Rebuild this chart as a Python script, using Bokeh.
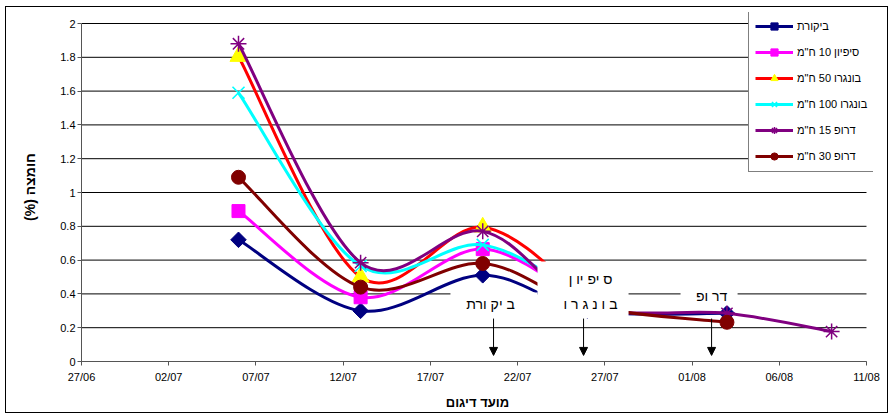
from datetime import datetime, timedelta
import numpy as np
from bokeh.plotting import figure
from bokeh.models import (Range1d, FixedTicker, DatetimeTickFormatter, CustomJSTickFormatter,
                          Legend, LegendItem, ColumnDataSource, BoxAnnotation, Label, Arrow, NormalHead,
                          InlineStyleSheet)
from bokeh.embed import file_html
from bokeh.resources import INLINE

YEAR = 2004

# ---------------- data ----------------
tick_labels = ["27/06", "02/07", "07/07", "12/07", "17/07", "22/07", "27/07", "01/08", "06/08", "11/08"]
y_ticks = [0, 0.2, 0.4, 0.6, 0.8, 1.0, 1.2, 1.4, 1.6, 1.8, 2.0]

names = ["ביקורת", 'סיפיון 10 ח"מ', 'בונגרו 50 ח"מ', 'בונגרו 100 ח"מ', 'דרופ 15 ח"מ', 'דרופ 30 ח"מ']

dates_control = ["06/07", "13/07", "20/07", "26/07", "03/08"]
control = [0.72, 0.30, 0.51, 0.30, 0.285]

dates_sifion10 = ["06/07", "13/07", "20/07", "26/07"]
sifion10 = [0.89, 0.38, 0.665, 0.33]

dates_bongaro50 = ["06/07", "13/07", "20/07", "26/07"]
bongaro50 = [1.805, 0.50, 0.795, 0.36]

dates_bongaro100 = ["06/07", "13/07", "20/07", "26/07"]
bongaro100 = [1.59, 0.565, 0.69, 0.37]

dates_drop15 = ["06/07", "13/07", "20/07", "26/07", "03/08", "09/08"]
drop15 = [1.88, 0.585, 0.77, 0.33, 0.285, 0.177]

dates_drop30 = ["06/07", "13/07", "20/07", "26/07", "03/08"]
drop30 = [1.09, 0.44, 0.58, 0.33, 0.232]

# treatment annotations (labels)
treat_labels = [["ב יק ורת"], ["ס יפ יו ן", "ב ו נ ג ר ו"], ["דר ופ"]]

# ---------------- helpers ----------------
EPOCH = datetime(1970, 1, 1)


def parse(d):
    day, mon = map(int, d.split("/"))
    return datetime(YEAR, mon, day)


def to_ms(dt):
    return (dt - EPOCH).total_seconds() * 1000.0


BASE = parse(tick_labels[0])
DAY_MS = 86400000.0


def day_ms(offset_days):
    return to_ms(BASE + timedelta(days=offset_days))


def bezier_source(dates, vals):
    X = np.array([to_ms(parse(d)) for d in dates])
    Y = np.array(vals, float)
    n = len(X)
    x0, y0, x1, y1, cx0, cy0, cx1, cy1 = [], [], [], [], [], [], [], []
    for i in range(n - 1):
        im = i - 1 if i > 0 else i
        ip = i + 2 if i + 2 < n else i + 1
        x0.append(X[i]); y0.append(Y[i]); x1.append(X[i + 1]); y1.append(Y[i + 1])
        cx0.append(X[i] + (X[i + 1] - X[im]) / 6.0)
        cy0.append(Y[i] + (Y[i + 1] - Y[im]) / 6.0)
        cx1.append(X[i + 1] - (X[ip] - X[i]) / 6.0)
        cy1.append(Y[i + 1] - (Y[ip] - Y[i]) / 6.0)
    return ColumnDataSource(dict(x0=x0, y0=y0, x1=x1, y1=y1, cx0=cx0, cy0=cy0, cx1=cx1, cy1=cy1))


# ---------------- figure ----------------
x_start = to_ms(parse(tick_labels[0]))
x_end = to_ms(parse(tick_labels[-1]))
y_top = y_ticks[-1]

# a little room beyond the axes so the legend box (which overhangs the plot area) is not clipped
x_pad = 7 / 17.444 * DAY_MS
y_pad = 11 / 169.0

p = figure(width=893, height=418, output_backend="svg", toolbar_location=None,
           x_axis_type="datetime",
           x_range=Range1d(x_start, x_end + x_pad), y_range=Range1d(0, y_top + y_pad),
           min_border_left=81, min_border_right=20, min_border_top=12, min_border_bottom=57,
           background_fill_color="white", border_fill_color="white")
p.outline_line_color = None
p.xgrid.visible = False
p.ygrid.visible = False

# chart-area border (drawn on top of the canvas)
p.stylesheets = [InlineStyleSheet(css=(
    ":host { position: relative; }\n"
    ":host::after { content: ''; position: absolute; left: 5px; top: 6px; width: 883px; height: 407px;"
    " box-sizing: border-box; border: 1px solid #000000; pointer-events: none; z-index: 100; }"))]

FONT = "Liberation Sans"

# horizontal gridlines limited to the axis extent
p.segment(x0=[x_start] * len(y_ticks), x1=[x_end] * len(y_ticks), y0=y_ticks, y1=y_ticks,
          line_color="#000000", line_width=1)

p.xaxis.ticker = FixedTicker(ticks=[to_ms(parse(t)) for t in tick_labels])
p.xaxis.formatter = DatetimeTickFormatter(days="%d/%m", months="%d/%m", hours="%d/%m",
                                          years="%d/%m", context=None)
p.yaxis.ticker = FixedTicker(ticks=y_ticks)
p.yaxis.formatter = CustomJSTickFormatter(code="return (Math.round(tick*10)/10).toString()")
p.xaxis.bounds = (x_start, x_end)
p.yaxis.bounds = (0, y_top)

for ax in (p.xaxis[0], p.yaxis[0]):
    ax.axis_line_color = "#555555"
    ax.major_tick_line_color = "#555555"
    ax.major_tick_out = 4
    ax.major_tick_in = 0
    ax.minor_tick_line_color = None
    ax.major_label_text_font = FONT
    ax.major_label_text_font_size = "11px"
    ax.major_label_text_color = "#000000"
    ax.axis_label_text_font = FONT
    ax.axis_label_text_font_style = "bold"
    ax.axis_label_text_color = "#000000"

p.xaxis.major_label_standoff = 5
p.yaxis.major_label_standoff = 2
p.xaxis.axis_label = "מועד דיגום"
p.xaxis.axis_label_text_font_size = "13px"
p.xaxis.axis_label_standoff = 9
p.yaxis.axis_label = "חומצה (%)\u200F"
p.yaxis.axis_label_text_font_size = "14px"
p.yaxis.axis_label_standoff = 19

series = [
    (names[0], dates_control, control, "#000080", dict(marker="square", size=11, angle=np.pi / 4,
                                                       fill_color="#000080", line_color="#000080")),
    (names[1], dates_sifion10, sifion10, "#FF00FF", dict(marker="square", size=13,
                                                         fill_color="#FF00FF", line_color="#FF00FF")),
    (names[2], dates_bongaro50, bongaro50, "#FF0000", dict(marker="triangle", size=17,
                                                           fill_color="#FFFF00", line_color="#FFFF00")),
    (names[3], dates_bongaro100, bongaro100, "#00FFFF", dict(marker="x", size=17, line_width=1.6,
                                                             line_color="#00FFFF")),
    (names[4], dates_drop15, drop15, "#800080", dict(marker="asterisk", size=16, line_width=1.5,
                                                     line_color="#800080")),
    (names[5], dates_drop30, drop30, "#800000", dict(marker="circle", size=14,
                                                     fill_color="#800000", line_color="#800000")),
]

items = []
for name, dts, vals, color, mk in series:
    src = bezier_source(dts, vals)
    br = p.bezier(x0="x0", y0="y0", x1="x1", y1="y1", cx0="cx0", cy0="cy0", cx1="cx1", cy1="cy1",
                  source=src, line_color=color, line_width=3)
    sr = p.scatter(x=[parse(d) for d in dts], y=vals, **mk)
    items.append(LegendItem(label=name, renderers=[br, sr]))

legend = Legend(items=items, location=(667, 189), orientation="vertical",
                padding=6, margin=0, spacing=8, glyph_height=18, label_height=18, glyph_width=38,
                label_standoff=4, label_text_font=FONT, label_text_font_size="11px",
                label_text_color="#000000",
                border_line_color="#000000", border_line_width=1,
                background_fill_color="white", background_fill_alpha=1.0)
p.add_layout(legend)

# ---------------- annotation boxes, texts, arrows ----------------
boxes = [(21.15, 26.14, 0.408, 0.254), (26.14, 31.36, 0.592, 0.254), (34.34, 37.61, 0.45, 0.331)]
for l, r, t, b in boxes:
    p.add_layout(BoxAnnotation(left=day_ms(l), right=day_ms(r), top=t, bottom=b,
                               fill_color="white", fill_alpha=1.0, line_color=None,
                               level="annotation"))

text_pos = [[(23.45, 0.343)], [(29.18, 0.491), (29.18, 0.343)], [(36.12, 0.39)]]
for labs, poss in zip(treat_labels, text_pos):
    for lab, (d, v) in zip(labs, poss):
        p.add_layout(Label(x=day_ms(d), y=v, text=lab, text_font=FONT, text_font_size="14px",
                           text_align="center", text_baseline="middle", text_color="#000000"))

for d in (23.62, 28.78, 36.12):
    p.add_layout(Arrow(x_start=day_ms(d), y_start=0.254, x_end=day_ms(d), y_end=0.036,
                       line_color="black", line_width=1,
                       end=NormalHead(size=8, fill_color="black", line_color="black")))

open("out.html", "w").write(file_html(p, INLINE))
